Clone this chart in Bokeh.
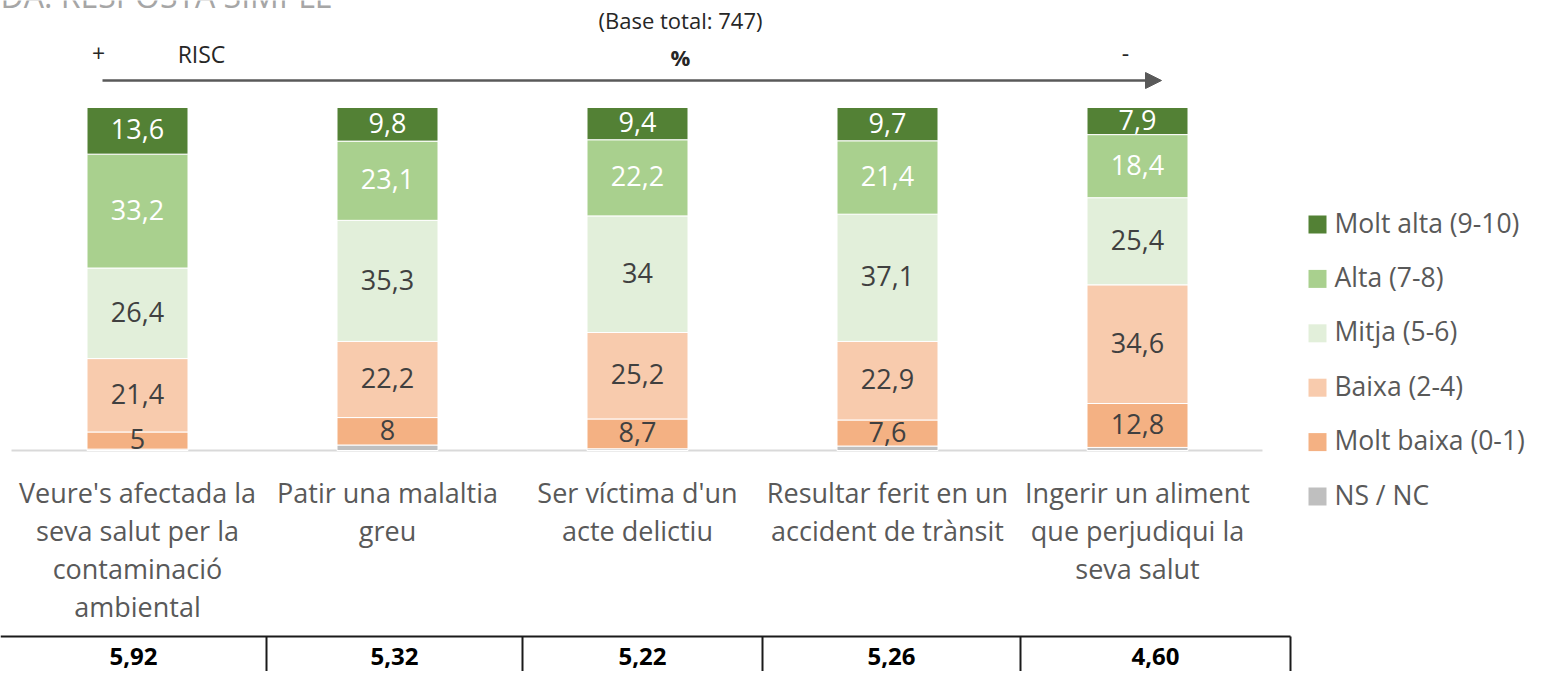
from bokeh.plotting import figure
from bokeh.models import Range1d, ColumnDataSource, Arrow, NormalHead
from bokeh.core.properties import value
from bokeh.embed import file_html
from bokeh.resources import INLINE

# ---------------- data ----------------
categories = [
    "Veure's afectada la\nseva salut per la\ncontaminació\nambiental",
    "Patir una malaltia\ngreu",
    "Ser víctima d'un\nacte delictiu",
    "Resultar ferit en un\naccident de trànsit",
    "Ingerir un aliment\nque perjudiqui la\nseva salut",
]
series_names = ["NS / NC", "Molt baixa (0-1)", "Baixa (2-4)", "Mitja (5-6)", "Alta (7-8)", "Molt alta (9-10)"]
ns_nc = [0.4, 1.6, 0.5, 1.3, 0.9]
molt_baixa = [5.0, 8.0, 8.7, 7.6, 12.8]
baixa = [21.4, 22.2, 25.2, 22.9, 34.6]
mitja = [26.4, 35.3, 34.0, 37.1, 25.4]
alta = [33.2, 23.1, 22.2, 21.4, 18.4]
molt_alta = [13.6, 9.8, 9.4, 9.7, 7.9]
mitjanes = ["5,92", "5,32", "5,22", "5,26", "4,60"]

title_cut = "DA: RESPOSTA SIMPLE"
base_text = "(Base total: 747)"

# ---------------- styles ----------------
colors = ["#BFBFBF", "#F4B183", "#F8CBAD", "#E2EFDA", "#A9D08E", "#538135"]
label_colors = [None, "#404040", "#404040", "#404040", "#FFFFFF", "#FFFFFF"]
FONT = "Open Sans"

W, H = 1527, 671

# picture-pixel -> data helpers
def px(x_pix):
    return (x_pix - 137) / 250.0

def py(y_pix):
    return (450 - y_pix) / 3.43

p = figure(width=W, height=H,
           x_range=Range1d(px(0), px(W)),
           y_range=Range1d(py(H), py(0)),
           output_backend="svg", toolbar_location=None,
           min_border=0, x_axis_location=None, y_axis_location=None)
p.grid.visible = False
p.outline_line_color = None
p.background_fill_color = "white"
p.border_fill_color = "white"

keys = ["ns_nc", "molt_baixa", "baixa", "mitja", "alta", "molt_alta"]
vals = [ns_nc, molt_baixa, baixa, mitja, alta, molt_alta]
data = {"x": list(range(len(categories)))}
for k, v in zip(keys, vals):
    data[k] = v
src = ColumnDataSource(data)

# baseline
p.segment(x0=[px(11)], y0=[0], x1=[px(1262)], y1=[0], line_color="#D9D9D9", line_width=2)

p.vbar_stack(keys, x="x", width=0.404, fill_color=colors, line_color="white",
             line_width=1, source=src)

# segment labels
def fmt(v):
    s = f"{v:.1f}".replace(".", ",")
    if s.endswith(",0"):
        s = s[:-2]
    return s

lx, ly, lt, lc = [], [], [], []
for i in range(len(categories)):
    cum = 0.0
    for j, v in enumerate(vals):
        mid = cum + v[i] / 2.0
        cum += v[i]
        if label_colors[j] is None:
            continue
        lx.append(i)
        ly.append(mid + 0.4)
        lt.append(fmt(v[i]))
        lc.append(label_colors[j])
p.text(x=lx, y=ly, text=lt, text_color=lc, text_font=value(FONT),
       text_font_size="27px", text_align="center", text_baseline="middle")

# category labels (one text per line)
cx, cy, ct = [], [], []
for i, c in enumerate(categories):
    for k, line in enumerate(c.split("\n")):
        cx.append(i)
        cy.append(py(492 + 38 * k))
        ct.append(line)
p.text(x=cx, y=cy, text=ct, text_color="#595959", text_font=value(FONT),
       text_font_size="27px", text_align="center", text_baseline="middle")

# legend (top to bottom)
leg_y = [py(222 + 54.4 * k) for k in range(len(series_names))]
rev_names = list(reversed(series_names))
rev_colors = list(reversed(colors))
p.scatter(x=[px(1317)] * len(rev_names), y=[py(224 + 54.4 * k) for k in range(len(series_names))],
          marker="square", size=18, fill_color=rev_colors, line_color=None)
p.text(x=[px(1334)] * len(rev_names), y=leg_y, text=rev_names, text_color="#595959",
       text_font=value(FONT), text_font_size="26.5px", text_align="left",
       text_baseline="middle")

# header texts
p.text(x=[px(0)], y=[py(-5)], text=[title_cut], text_color="#A6A6A6", text_font=value(FONT),
       text_font_size="32px", text_align="left", text_baseline="alphabetic")
p.text(x=[px(680)], y=[py(19)], text=[base_text], text_color="#262626", text_font=value(FONT),
       text_font_size="22px", text_align="center", text_baseline="middle")
p.text(x=[px(98), px(201), px(1125)], y=[py(53), py(53), py(53)], text=["+", "RISC", "-"],
       text_color="#262626", text_font=value(FONT), text_font_size="23px",
       text_align="center", text_baseline="middle")
p.text(x=[px(680)], y=[py(56)], text=["%"], text_color="#262626", text_font=value(FONT),
       text_font_size="22px", text_font_style="bold", text_align="center",
       text_baseline="middle")

# risk arrow
p.add_layout(Arrow(x_start=px(102), y_start=py(80), x_end=px(1161), y_end=py(80),
                   line_color="#595959", line_width=2.5,
                   end=NormalHead(size=16, fill_color="#595959", line_color="#595959")))

# table of means
table_edges = [0, 266, 522, 762, 1020, 1290]
table_top = 636
p.segment(x0=[px(table_edges[0])], y0=[py(table_top)], x1=[px(table_edges[-1])], y1=[py(table_top)],
          line_color="#1A1A1A", line_width=2)
p.segment(x0=[px(e) for e in table_edges[1:]], y0=[py(table_top)] * 5,
          x1=[px(e) for e in table_edges[1:]], y1=[py(700)] * 5,
          line_color="#1A1A1A", line_width=2)
tx = [px((a + b) / 2.0) for a, b in zip(table_edges[:-1], table_edges[1:])]
p.text(x=tx, y=[py(656)] * 5, text=mitjanes, text_color="#000000", text_font=value(FONT),
       text_font_size="24px", text_font_style="bold", text_align="center",
       text_baseline="middle")

open("out.html", "w").write(file_html(p, INLINE))
